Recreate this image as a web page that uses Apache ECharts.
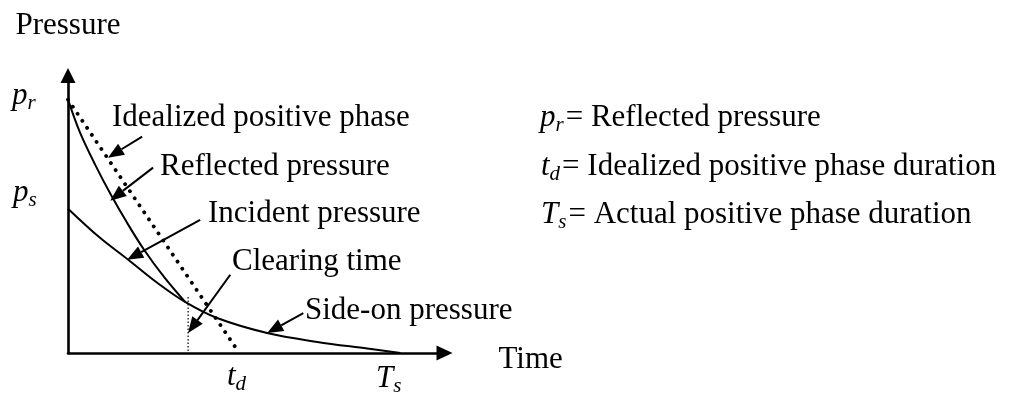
<!DOCTYPE html>
<html>
<head>
<meta charset="utf-8">
<script src="https://cdn.jsdelivr.net/npm/echarts@6/dist/echarts.min.js"></script>
<style>
  html, body { margin: 0; padding: 0; background: #ffffff; }
  #chart { width: 1029px; height: 401px; }
</style>
</head>
<body>
<div id="chart"></div>
<script>
// Blast pressure–time history (schematic). Both axes run 0..10 in arbitrary units.
const reflectedTime     = [0, 0.32, 0.72, 1.14, 1.57, 2.02, 2.55, 3.11];
const reflectedPressure = [9.13, 7.94, 6.79, 5.70, 4.69, 3.72, 2.74, 1.84];
const incidentTime      = [0, 0.85, 1.60, 2.37, 3.11, 3.96, 5.29, 6.62, 7.95, 8.83];
const incidentPressure  = [5.20, 4.15, 3.36, 2.53, 1.84, 1.26, 0.72, 0.40, 0.16, 0];
const idealTime         = [0, 4.44];
const idealPressure     = [9.13, 0.22];
const clearingTime      = [3.19, 3.19];
const clearingPressure  = [2.02, 0];

// Callout arrows: [tail time, tail pressure, tip time, tip pressure]
const arrowIdealized = [1.97, 7.80, 1.06, 7.04];
const arrowReflected = [2.26, 6.68, 1.12, 5.49];
const arrowIncident  = [3.51, 4.80, 1.57, 3.36];
const arrowClearing  = [4.31, 2.82, 3.19, 0.72];
const arrowSideOn    = [6.25, 1.44, 5.29, 0.72];

const calloutTexts = ['Idealized positive phase', 'Reflected pressure', 'Incident pressure', 'Clearing time', 'Side-on pressure'];
const legendDefs = [
  ['p', 'r', 'Reflected pressure'],
  ['t', 'd', 'Idealized positive phase duration'],
  ['T', 's', 'Actual positive phase duration']
];
const axisSymbols = [['p', 'r'], ['p', 's'], ['t', 'd'], ['T', 's']];

const FONT = "'Liberation Serif', 'Times New Roman', serif";
const BLACK = '#000000';
const pairs = (xs, ys) => xs.map((x, i) => [x, ys[i]]);

const rich = {
  it:  { fontFamily: FONT, fontStyle: 'italic', fontSize: 31, lineHeight: 36, color: BLACK },
  sub: { fontFamily: FONT, fontStyle: 'italic', fontSize: 21, lineHeight: 21, verticalAlign: 'bottom',
         padding: [0, 2, 0, 0], color: BLACK },
  tx:  { fontFamily: FONT, fontSize: 31, lineHeight: 36, color: BLACK }
};

// text placement: [left x, baseline y]
const calloutPos = [[112, 128], [160, 177], [208, 224], [232, 272], [305, 321]];
const legendPos  = [[540, 128], [541, 177], [541, 225]];
const symbolPos  = [[12, 106], [13, 203], [227, 387], [376, 389]];

const graphics = [];
calloutTexts.forEach((t, i) => {
  graphics.push({
    type: 'text', x: calloutPos[i][0], y: calloutPos[i][1] - 10.5, silent: true,
    style: { text: t, fontFamily: FONT, fontSize: 31, fill: BLACK, verticalAlign: 'middle', align: 'left' }
  });
});
legendDefs.forEach((d, i) => {
  graphics.push({
    type: 'text', x: legendPos[i][0], y: legendPos[i][1] - 28.5, silent: true,
    style: { text: `{it|${d[0]}}{sub|${d[1]}}{tx|= ${d[2]}}`, rich, verticalAlign: 'top', align: 'left' }
  });
});
axisSymbols.forEach((d, i) => {
  graphics.push({
    type: 'text', x: symbolPos[i][0], y: symbolPos[i][1] - 28.5, silent: true,
    style: { text: `{it|${d[0]}}{sub|${d[1]}}`, rich, verticalAlign: 'top', align: 'left' }
  });
});

const chart = echarts.init(document.getElementById('chart'), null, { renderer: 'canvas' });

const axisCommon = {
  type: 'value', min: 0, max: 10,
  axisTick: { show: false }, axisLabel: { show: false }, splitLine: { show: false },
  nameTextStyle: { fontFamily: FONT, fontSize: 31, color: BLACK }
};

const curveStyle = { color: BLACK, width: 2 };

chart.setOption({
  animation: false,
  backgroundColor: '#ffffff',
  grid: { left: 68, top: 75.5, right: 584.5, bottom: 48, containLabel: false },
  xAxis: Object.assign({}, axisCommon, {
    name: 'Time', nameLocation: 'end', nameGap: 54,
    nameTextStyle: Object.assign({}, axisCommon.nameTextStyle, { verticalAlign: 'top', lineHeight: 13 }),
    axisLine: { show: true, onZero: false, symbol: ['none', 'triangle'], symbolSize: [15, 16],
                lineStyle: { color: BLACK, width: 2.6 } }
  }),
  yAxis: Object.assign({}, axisCommon, {
    name: 'Pressure', nameLocation: 'end', nameGap: 34,
    axisLine: { show: true, onZero: false, symbol: ['none', 'triangle'], symbolSize: [15, 15],
                lineStyle: { color: BLACK, width: 2.6 } }
  }),
  series: [
    {
      name: 'Reflected pressure', type: 'line', data: pairs(reflectedTime, reflectedPressure),
      smooth: 0.35, showSymbol: false, silent: true, lineStyle: curveStyle
    },
    {
      name: 'Incident pressure', type: 'line', data: pairs(incidentTime, incidentPressure),
      smooth: 0.35, showSymbol: false, silent: true, lineStyle: curveStyle
    },
    {
      name: 'Idealized positive phase', type: 'line', data: pairs(idealTime, idealPressure),
      showSymbol: false, silent: true,
      lineStyle: { color: BLACK, width: 3.8, type: [0.1, 8.4], cap: 'round' }
    },
    {
      name: 'Clearing time', type: 'line', data: pairs(clearingTime, clearingPressure),
      showSymbol: false, silent: true,
      lineStyle: { color: BLACK, width: 1.2, type: [1.5, 2] }
    },
    {
      name: 'Callouts', type: 'custom', silent: true, clip: false,
      data: [arrowIdealized, arrowReflected, arrowIncident, arrowClearing, arrowSideOn],
      encode: { x: [0, 2], y: [1, 3] },
      renderItem(params, api) {
        const tail = api.coord([api.value(0), api.value(1)]);
        const tip = api.coord([api.value(2), api.value(3)]);
        const dx = tip[0] - tail[0], dy = tip[1] - tail[1];
        const len = Math.hypot(dx, dy) || 1;
        const ux = dx / len, uy = dy / len;
        const headLen = 16, headHalf = 6.5;
        const base = [tip[0] - ux * headLen, tip[1] - uy * headLen];
        const p1 = [base[0] - uy * headHalf, base[1] + ux * headHalf];
        const p2 = [base[0] + uy * headHalf, base[1] - ux * headHalf];
        return {
          type: 'group',
          children: [
            { type: 'line', shape: { x1: tail[0], y1: tail[1], x2: base[0], y2: base[1] },
              style: { stroke: BLACK, lineWidth: 2 } },
            { type: 'polygon', shape: { points: [tip, p1, p2] }, style: { fill: BLACK } }
          ]
        };
      }
    }
  ],
  graphic: graphics
});
</script>
</body>
</html>
